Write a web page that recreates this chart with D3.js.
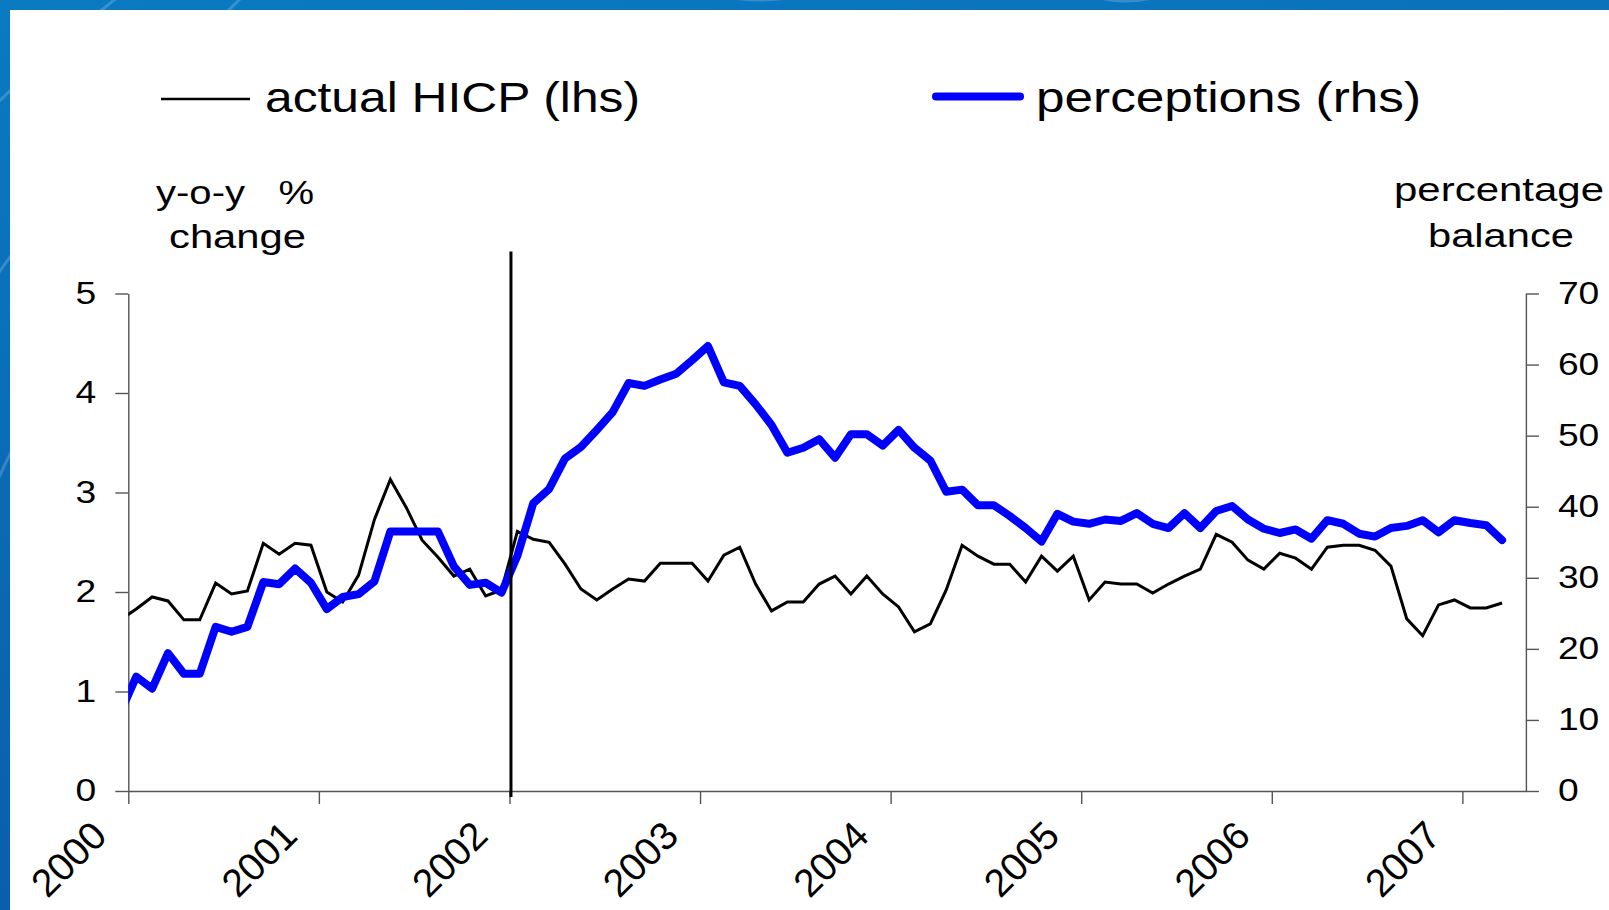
<!DOCTYPE html>
<html>
<head>
<meta charset="utf-8">
<script src="https://cdnjs.cloudflare.com/ajax/libs/d3/7.8.5/d3.min.js"></script>
<style>
    html, body { margin: 0; padding: 0; overflow: hidden; background: #0a6fb8; }
    svg text { font-family: "Liberation Sans", Arial, sans-serif; fill: #000; }
</style>
</head>
<body>
<div id="svgContainer"></div>
<script>
// monthly series, first value is Dec 1999 (only its slope into the plot shows)
const firstMonth = -1;
const hicp = [
    1.72,
    1.83, 1.95, 1.91, 1.72, 1.72, 2.09, 1.98, 2.01, 2.49, 2.38, 2.49, 2.47,
    2.00, 1.90, 2.17, 2.73, 3.13, 2.85, 2.52, 2.35, 2.16, 2.23, 1.96, 2.02,
    2.61, 2.53, 2.50, 2.28, 2.03, 1.92, 2.03, 2.13, 2.11, 2.29, 2.29, 2.29,
    2.11, 2.37, 2.45, 2.08, 1.81, 1.90, 1.90, 2.08, 2.16, 1.98, 2.16, 1.98,
    1.85, 1.60, 1.68, 2.02, 2.47, 2.36, 2.28, 2.28, 2.10, 2.36, 2.21, 2.36,
    1.92, 2.10, 2.08, 2.08, 1.99, 2.08, 2.16, 2.23, 2.58, 2.50, 2.32, 2.23,
    2.39, 2.34, 2.23, 2.45, 2.47, 2.47, 2.42, 2.26, 1.73, 1.56, 1.87, 1.92,
    1.84, 1.84, 1.89
];
const perceptions = [
    11.0,
    16.1, 14.4, 19.4, 16.5, 16.5, 23.1, 22.4, 23.1, 29.4, 29.1, 31.3, 29.3,
    25.6, 27.3, 27.7, 29.5, 36.5, 36.5, 36.5, 36.5, 31.6, 29.0, 29.3, 27.9,
    33.1, 40.5, 42.5, 46.8, 48.4, 50.8, 53.3, 57.4, 57.0, 57.9, 58.7, 60.6,
    62.6, 57.5, 57.0, 54.4, 51.5, 47.6, 48.3, 49.5, 46.9, 50.2, 50.2, 48.6,
    50.8, 48.3, 46.5, 42.1, 42.4, 40.2, 40.2, 38.7, 37.0, 35.1, 39.0, 37.9,
    37.6, 38.2, 38.0, 39.1, 37.6, 37.0, 39.1, 37.0, 39.4, 40.1, 38.2, 36.9,
    36.3, 36.8, 35.5, 38.1, 37.6, 36.2, 35.8, 37.0, 37.3, 38.1, 36.4, 38.1,
    37.7, 37.4, 35.3
];
const monthsOnAxis = 88;          // Jan 2000 .. Apr 2007
const yearLabels = ["2000", "2001", "2002", "2003", "2004", "2005", "2006", "2007"];
const leftTicks = [0, 1, 2, 3, 4, 5];
const rightTicks = [0, 10, 20, 30, 40, 50, 60, 70];
const changeoverMonth = 24;       // euro cash, Jan 2002
const legendLabels = ["actual HICP (lhs)", "perceptions (rhs)"];
const leftTitle = ["y-o-y   %", "change"];
const rightTitle = ["percentage", "balance"];

var chartScripts = (function () {
    let width;
    let height;
    let svg;
    const plot = { left: 128.3, right: 1525.9, top: 293.5, bottom: 791 };
    const axisColor = "#555555";
    const hicpColor = "#000000";
    const perceptionsColor = "#0000FF";
    let x, yLeft, yRight;

    function init(w, h) {
        width = w;
        height = h;
        createSVG();
        drawBackground();
        createScales();
        drawAxes();
        drawLines();
        drawLegend();
        drawTitles();
    }

    function createSVG() {
        svg = d3.select("#svgContainer")
            .append("svg")
            .attr("width", width)
            .attr("height", height)
            .style("display", "block");
    }

    function drawBackground() {
        let defs = svg.append("defs");
        let grad = defs.append("linearGradient")
            .attr("id", "frameGrad")
            .attr("x1", 0).attr("y1", 0).attr("x2", 0.3).attr("y2", 1);
        grad.append("stop").attr("offset", 0).attr("stop-color", "#0a7ac3");
        grad.append("stop").attr("offset", 1).attr("stop-color", "#0a5ca7");

        defs.append("clipPath")
            .attr("id", "plotClip")
            .append("rect")
            .attr("x", plot.left)
            .attr("y", 0)
            .attr("width", plot.right - plot.left)
            .attr("height", plot.bottom);

        svg.append("rect")
            .attr("width", width)
            .attr("height", height)
            .attr("fill", "url(#frameGrad)");

        // faint streaks of the slide template
        const streaks = [
            "M-20,120 Q60,40 140,-20",
            "M-20,300 Q80,150 260,-20",
            "M-20,520 Q40,380 120,260",
            "M700,-10 Q760,10 820,-10",
            "M1080,-10 Q1120,12 1180,-10"
        ];
        svg.selectAll("path.streak")
            .data(streaks)
            .enter()
            .append("path")
            .attr("class", "streak")
            .attr("d", d => d)
            .attr("fill", "none")
            .attr("stroke", "#ffffff")
            .attr("stroke-opacity", 0.18)
            .attr("stroke-width", 3);

        svg.append("rect")
            .attr("x", 10)
            .attr("y", 10)
            .attr("width", width - 10)
            .attr("height", height - 10)
            .attr("fill", "#ffffff");
    }

    function createScales() {
        x = d3.scaleLinear()
            .domain([0, monthsOnAxis])
            .range([plot.left, plot.right]);
        yLeft = d3.scaleLinear()
            .domain([0, 5])
            .range([plot.bottom, plot.top]);
        yRight = d3.scaleLinear()
            .domain([0, 70])
            .range([plot.bottom, plot.top]);
    }

    function styleAxis(g) {
        g.attr("font-size", null).attr("font-family", null);
        g.selectAll("path, line")
            .attr("stroke", axisColor)
            .attr("stroke-width", 1.4);
        g.selectAll("text")
            .style("font-size", "31px");
    }

    function stretchText(sel, factor) {
        sel.each(function () {
            let natural = this.getComputedTextLength();
            d3.select(this)
                .attr("textLength", natural * factor)
                .attr("lengthAdjust", "spacingAndGlyphs");
        });
    }

    function drawAxes() {
        let xAxis = svg.append("g")
            .attr("transform", `translate(0,${plot.bottom})`)
            .call(d3.axisBottom(x)
                .tickValues(d3.range(0, monthsOnAxis, 12))
                .tickSize(13)
                .tickSizeOuter(0)
                .tickFormat((d, i) => yearLabels[i]));
        styleAxis(xAxis);
        xAxis.selectAll("text")
            .attr("x", 0)
            .attr("y", 0)
            .attr("dy", null)
            .attr("text-anchor", "end")
            .style("font-size", "39px")
            .attr("transform", "translate(-20,47) rotate(-45)");

        let leftAxis = svg.append("g")
            .attr("transform", `translate(${plot.left},0)`)
            .call(d3.axisLeft(yLeft)
                .tickValues(leftTicks)
                .tickSize(13)
                .tickPadding(19)
                .tickSizeOuter(0)
                .tickFormat(d3.format("d")));
        styleAxis(leftAxis);
        stretchText(leftAxis.selectAll("text"), 1.2);

        let rightAxis = svg.append("g")
            .attr("transform", `translate(${plot.right},0)`)
            .call(d3.axisRight(yRight)
                .tickValues(rightTicks)
                .tickSize(13)
                .tickPadding(19)
                .tickSizeOuter(0)
                .tickFormat(d3.format("d")));
        styleAxis(rightAxis);
        stretchText(rightAxis.selectAll("text"), 1.2);
    }

    function drawLines() {
        let lines = svg.append("g").attr("clip-path", "url(#plotClip)");

        let hicpLine = d3.line()
            .x((d, i) => x(firstMonth + i + 0.5))
            .y(d => yLeft(d));
        let perceptionsLine = d3.line()
            .x((d, i) => x(firstMonth + i + 0.5))
            .y(d => yRight(d));

        lines.append("path")
            .datum(hicp)
            .attr("d", hicpLine)
            .attr("fill", "none")
            .attr("stroke", hicpColor)
            .attr("stroke-width", 3)
            .attr("stroke-linejoin", "miter");

        lines.append("path")
            .datum(perceptions)
            .attr("d", perceptionsLine)
            .attr("fill", "none")
            .attr("stroke", perceptionsColor)
            .attr("stroke-width", 8)
            .attr("stroke-linejoin", "round")
            .attr("stroke-linecap", "round");

        // euro cash changeover marker
        svg.append("line")
            .attr("x1", x(changeoverMonth) + 1.5)
            .attr("x2", x(changeoverMonth) + 1.5)
            .attr("y1", plot.top - 42)
            .attr("y2", plot.bottom + 6)
            .attr("stroke", "#000")
            .attr("stroke-width", 3);
    }

    function drawLegend() {
        const items = [
            { x1: 161, x2: 250, y: 99, color: hicpColor, w: 2.6, cap: "butt", tx: 265, len: 375 },
            { x1: 936, x2: 1020, y: 96.5, color: perceptionsColor, w: 8, cap: "round", tx: 1036, len: 385 }
        ];
        items.forEach((it, i) => {
            svg.append("line")
                .attr("x1", it.x1).attr("x2", it.x2)
                .attr("y1", it.y).attr("y2", it.y)
                .attr("stroke", it.color)
                .attr("stroke-width", it.w)
                .attr("stroke-linecap", it.cap);
            svg.append("text")
                .attr("x", it.tx)
                .attr("y", 112)
                .style("font-size", "42px")
                .attr("textLength", it.len)
                .attr("lengthAdjust", "spacingAndGlyphs")
                .text(legendLabels[i]);
        });
    }

    function drawTitles() {
        const rows = [
            { text: leftTitle[0], x: 156, y: 204, len: 158 },
            { text: leftTitle[1], x: 169, y: 248, len: 137 },
            { text: rightTitle[0], x: 1394, y: 201, len: 210 },
            { text: rightTitle[1], x: 1428, y: 247, len: 146 }
        ];
        rows.forEach(r => {
            svg.append("text")
                .attr("x", r.x)
                .attr("y", r.y)
                .style("font-size", "34px")
                .style("white-space", "pre")
                .attr("textLength", r.len)
                .attr("lengthAdjust", "spacingAndGlyphs")
                .text(r.text);
        });
    }

    return {
        init: init
    }
})();

chartScripts.init(1609, 910);
</script>
</body>
</html>
